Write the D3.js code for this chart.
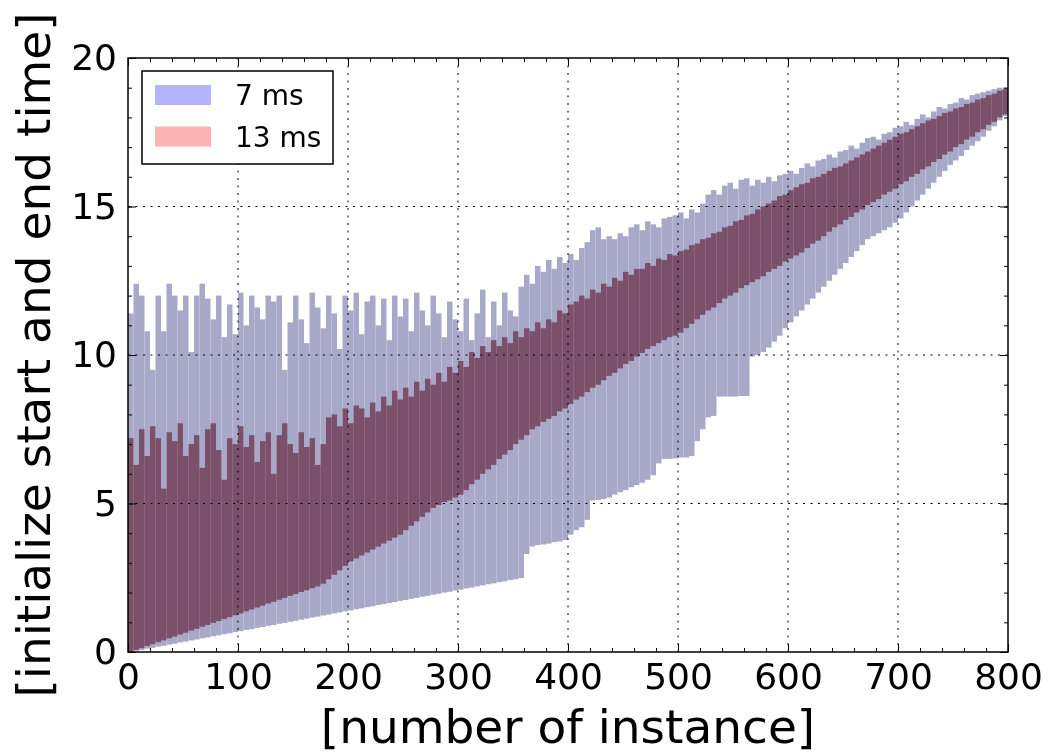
<!DOCTYPE html>
<html>
<head>
<meta charset="utf-8">
<script src="https://cdn.jsdelivr.net/npm/d3@7"></script>
<style>
  body { margin: 0; background: #fff; }
  svg { display: block; font-family: "DejaVu Sans", sans-serif; }
</style>
</head>
<body>
<svg class="bars-svg" width="1054" height="756"></svg>
<script>
// first instance of each group of 5 instances
const instances = d3.range(0, 800, 5)
const groupSize = 5

// 7 ms: initialize start / end time of each instance group
const blueStart = [
  0.00, 0.04, 0.07, 0.11, 0.14, 0.18, 0.21, 0.25, 0.28, 0.32,
  0.35, 0.39, 0.42, 0.46, 0.49, 0.53, 0.56, 0.60, 0.63, 0.67,
  0.70, 0.74, 0.77, 0.81, 0.84, 0.88, 0.91, 0.95, 0.98, 1.02,
  1.05, 1.09, 1.12, 1.16, 1.19, 1.23, 1.26, 1.30, 1.33, 1.37,
  1.40, 1.44, 1.47, 1.51, 1.54, 1.58, 1.61, 1.65, 1.68, 1.72,
  1.75, 1.79, 1.82, 1.86, 1.89, 1.93, 1.96, 2.00, 2.03, 2.07,
  2.10, 2.14, 2.17, 2.21, 2.24, 2.28, 2.31, 2.35, 2.38, 2.42,
  2.45, 2.49, 3.30, 3.55, 3.60, 3.62, 3.65, 3.70, 3.72, 3.77,
  3.95, 4.10, 4.20, 4.45, 5.10, 5.12, 5.15, 5.20, 5.30, 5.38,
  5.45, 5.55, 5.62, 5.70, 5.80, 5.95, 6.35, 6.50, 6.50, 6.52,
  6.55, 6.55, 6.60, 7.10, 7.50, 7.90, 7.95, 8.60, 8.60, 8.60,
  8.60, 8.62, 8.62, 9.95, 10.0, 10.1, 10.25, 10.45, 10.65, 10.9,
  11.1, 11.3, 11.5, 11.7, 11.9, 12.1, 12.3, 12.5, 12.7, 12.9,
  13.1, 13.3, 13.5, 13.7, 13.9, 14.0, 14.1, 14.2, 14.3, 14.45,
  14.6, 14.8, 15.0, 15.2, 15.4, 15.6, 15.8, 16.0, 16.2, 16.4,
  16.55, 16.7, 16.9, 17.05, 17.2, 17.35, 17.55, 17.7, 17.9, 18.05
]
const blueEnd = [
  11.4, 12.4, 12.0, 10.8, 9.5, 12.0, 10.8, 12.4, 12.0, 11.5,
  12.0, 10.1, 12.0, 12.4, 11.9, 11.2, 12.0, 10.6, 11.7, 10.7,
  12.1, 11.0, 12.0, 11.6, 11.2, 12.0, 11.8, 12.0, 9.5, 11.1,
  12.0, 11.2, 10.4, 12.1, 11.6, 10.9, 12.0, 11.4, 10.2, 12.0,
  11.5, 12.1, 10.7, 11.8, 12.0, 11.0, 11.9, 10.5, 12.0, 11.3,
  11.9, 10.8, 12.1, 11.5, 11.0, 12.0, 11.4, 10.6, 11.8, 11.2,
  10.8, 11.9, 10.5, 11.4, 12.2, 10.6, 11.8, 11.0, 12.1, 11.5,
  11.3, 12.3, 12.7, 12.4, 13.0, 12.8, 13.2, 12.9, 13.3, 13.1,
  13.4, 13.2, 13.6, 13.8, 14.2, 14.3, 13.9, 14.0, 13.9, 14.1,
  14.0, 14.3, 14.4, 14.2, 14.5, 14.4, 14.3, 14.6, 14.65, 14.7,
  14.8, 14.6, 14.9, 14.8, 15.1, 15.4, 15.55, 15.4, 15.7, 15.8,
  15.6, 15.9, 15.95, 15.7, 15.9, 15.8, 16.0, 15.85, 16.05, 16.1,
  16.2, 16.1, 16.3, 16.45, 16.35, 16.55, 16.6, 16.75, 16.65, 16.85,
  16.9, 17.05, 16.95, 17.15, 17.3, 17.35, 17.25, 17.45, 17.5, 17.65,
  17.7, 17.85, 17.75, 17.95, 18.1, 18.0, 18.2, 18.35, 18.3, 18.45,
  18.5, 18.65, 18.6, 18.75, 18.8, 18.85, 18.9, 18.95, 19.0, 19.0
]

// 13 ms: initialize start / end time of each instance group
const redStart = [
  0.00, 0.07, 0.13, 0.20, 0.26, 0.33, 0.39, 0.46, 0.52, 0.59,
  0.65, 0.72, 0.78, 0.85, 0.91, 0.98, 1.04, 1.11, 1.17, 1.24,
  1.30, 1.37, 1.43, 1.50, 1.56, 1.63, 1.69, 1.76, 1.82, 1.89,
  1.95, 2.02, 2.08, 2.15, 2.21, 2.30, 2.45, 2.60, 2.75, 2.90,
  3.05, 3.15, 3.25, 3.35, 3.45, 3.55, 3.65, 3.75, 3.85, 3.95,
  4.10, 4.25, 4.40, 4.55, 4.70, 4.85, 4.95, 5.05, 5.10, 5.20,
  5.30, 5.45, 5.65, 5.80, 6.00, 6.15, 6.30, 6.50, 6.65, 6.80,
  7.00, 7.15, 7.30, 7.50, 7.60, 7.75, 7.85, 7.95, 8.10, 8.20,
  8.35, 8.50, 8.60, 8.75, 8.90, 9.00, 9.15, 9.30, 9.40, 9.55,
  9.70, 9.80, 9.95, 10.07, 10.2, 10.3, 10.4, 10.5, 10.6, 10.65,
  10.75, 10.9, 11.05, 11.2, 11.35, 11.5, 11.6, 11.75, 11.9, 12.0,
  12.1, 12.25, 12.35, 12.45, 12.55, 12.65, 12.8, 12.9, 13.0, 13.15,
  13.25, 13.35, 13.45, 13.6, 13.75, 13.85, 14.0, 14.15, 14.3, 14.4,
  14.55, 14.65, 14.8, 14.9, 15.05, 15.15, 15.25, 15.4, 15.5, 15.6,
  15.75, 15.85, 16.0, 16.1, 16.25, 16.35, 16.5, 16.6, 16.75, 16.85,
  17.0, 17.1, 17.25, 17.35, 17.5, 17.6, 17.75, 17.85, 18.0, 18.1
]
const redEnd = [
  7.2, 6.3, 7.5, 6.6, 7.6, 7.2, 5.5, 7.4, 7.1, 7.7,
  6.6, 7.0, 7.3, 6.2, 7.5, 7.7, 6.8, 5.8, 7.2, 7.0,
  7.6, 6.9, 7.3, 6.4, 7.1, 7.4, 6.0, 7.3, 7.7, 7.0,
  6.7, 7.4, 6.9, 7.2, 6.3, 7.0, 7.9, 8.0, 7.6, 8.2,
  7.7, 8.3, 8.2, 7.9, 8.4, 8.1, 8.6, 8.3, 8.8, 8.5,
  8.9, 8.6, 9.1, 8.8, 9.2, 9.0, 9.4, 9.1, 9.6, 9.4,
  9.8, 9.6, 10.1, 9.9, 10.3, 10.1, 10.5, 10.3, 10.6, 10.4,
  10.8, 10.6, 10.9, 10.8, 11.1, 10.9, 11.2, 11.1, 11.5, 11.4,
  11.7, 11.8, 12.0, 11.9, 12.2, 12.1, 12.4, 12.3, 12.6, 12.5,
  12.8, 12.7, 12.9, 12.9, 13.1, 13.0, 13.25, 13.2, 13.4, 13.35,
  13.5, 13.55, 13.7, 13.75, 13.9, 13.95, 14.1, 14.15, 14.3, 14.35,
  14.5, 14.55, 14.7, 14.75, 14.9, 15.0, 15.1, 15.2, 15.35, 15.4,
  15.55, 15.65, 15.75, 15.8, 15.95, 16.0, 16.1, 16.2, 16.3, 16.35,
  16.45, 16.55, 16.65, 16.75, 16.85, 16.95, 17.05, 17.15, 17.25, 17.35,
  17.45, 17.5, 17.6, 17.7, 17.8, 17.9, 17.95, 18.05, 18.15, 18.2,
  18.3, 18.35, 18.45, 18.5, 18.6, 18.65, 18.75, 18.8, 18.9, 18.95
]

const seriesNames = ['7 ms', '13 ms']
const xMajorTicks = [0, 100, 200, 300, 400, 500, 600, 700, 800]
const yMajorTicks = [0, 5, 10, 15, 20]
const xLabel = '[number of instance]'
const yLabel = '[initialize start and end time]'

const plot = { left: 128, right: 1008, top: 58, bottom: 652 }
const svg = d3.select('.bars-svg')

const xScale = d3.scaleLinear().domain([0, 800]).range([plot.left, plot.right])
const yScale = d3.scaleLinear().domain([0, 20]).range([plot.bottom, plot.top])

/**
 * Draws one bar per instance group, from its start time to its end time.
 *
 * @param {number[]} starts The start times
 * @param {number[]} ends The end times
 * @param {string} color The fill color
 * @param {string} blend The css blend mode
 */
function drawBars (starts, ends, color, blend) {
  const data = instances.map((inst, k) => ({ inst, lo: starts[k], hi: ends[k] }))
  const bw = xScale(groupSize) - xScale(0)
  svg.append('g')
    .selectAll('rect')
    .data(data)
    .join('rect')
    .attr('x', d => xScale(d.inst))
    .attr('width', bw)
    .attr('y', d => yScale(d.hi))
    .attr('height', d => yScale(d.lo) - yScale(d.hi))
    .attr('fill', color)
    .style('mix-blend-mode', blend)
}

drawBars(blueStart, blueEnd, '#a8a8c9', 'normal')
drawBars(redStart, redEnd, '#b97988', 'multiply')

// dotted grid
const grid = svg.append('g')
  .attr('stroke', '#000')
  .attr('stroke-width', 1)
  .attr('stroke-dasharray', '2,5.5')
grid.selectAll('.vgrid')
  .data(xMajorTicks.slice(1, -1))
  .join('line')
  .attr('x1', d => xScale(d)).attr('x2', d => xScale(d))
  .attr('y1', plot.top).attr('y2', plot.bottom)
grid.selectAll('.hgrid')
  .data(yMajorTicks.slice(1, -1))
  .join('line')
  .attr('x1', plot.left).attr('x2', plot.right)
  .attr('y1', d => yScale(d)).attr('y2', d => yScale(d))

/**
 * Draws an axis with inward major and minor ticks.
 */
function drawAxis (axisFn, scale, major, minor, transform, labels, pad) {
  const g = svg.append('g').attr('transform', transform)
  g.call(axisFn(scale).tickValues(minor).tickSizeInner(-4).tickSizeOuter(0).tickFormat(''))
  g.append('g').call(axisFn(scale).tickValues(major).tickSizeInner(-8).tickSizeOuter(0)
    .tickPadding(pad).tickFormat(labels ? d3.format('d') : ''))
  g.selectAll('.domain').remove()
  g.selectAll('line').attr('stroke', '#000').attr('stroke-width', 1)
  g.selectAll('text')
    .attr('font-family', '"DejaVu Sans", sans-serif')
    .attr('font-size', 36)
    .attr('fill', '#000')
}

const xMinor = d3.range(0, 801, 20)
const yMinor = d3.range(0, 21, 1)
drawAxis(d3.axisBottom, xScale, xMajorTicks, xMinor, `translate(0,${plot.bottom})`, true, 11)
drawAxis(d3.axisTop, xScale, xMajorTicks, xMinor, `translate(0,${plot.top})`, false, 0)
drawAxis(d3.axisLeft, yScale, yMajorTicks, yMinor, `translate(${plot.left},0)`, true, 11)
drawAxis(d3.axisRight, yScale, yMajorTicks, yMinor, `translate(${plot.right},0)`, false, 0)

// frame
svg.append('rect')
  .attr('x', plot.left).attr('y', plot.top)
  .attr('width', plot.right - plot.left).attr('height', plot.bottom - plot.top)
  .attr('fill', 'none').attr('stroke', '#000').attr('stroke-width', 1.5)

// axis titles
svg.append('text')
  .attr('x', (plot.left + plot.right) / 2)
  .attr('y', 743)
  .attr('text-anchor', 'middle')
  .attr('font-size', 47)
  .text(xLabel)
svg.append('text')
  .attr('transform', `translate(50,${(plot.top + plot.bottom) / 2}) rotate(-90)`)
  .attr('text-anchor', 'middle')
  .attr('font-size', 47)
  .text(yLabel)

// legend
const legend = svg.append('g').attr('transform', 'translate(142,71)')
legend.append('rect')
  .attr('width', 191).attr('height', 93)
  .attr('fill', '#fff').attr('stroke', '#000').attr('stroke-width', 1.5)
const legendColors = ['#b3b3ff', '#ffb3b3']
const items = legend.selectAll('.item')
  .data(seriesNames)
  .join('g')
  .attr('transform', (d, i) => `translate(0,${14 + i * 41.5})`)
items.append('rect')
  .attr('x', 13).attr('width', 56).attr('height', 20)
  .attr('fill', (d, i) => legendColors[i])
items.append('text')
  .attr('x', 93).attr('y', 20)
  .attr('font-size', 28)
  .text(d => d)
</script>
</body>
</html>
